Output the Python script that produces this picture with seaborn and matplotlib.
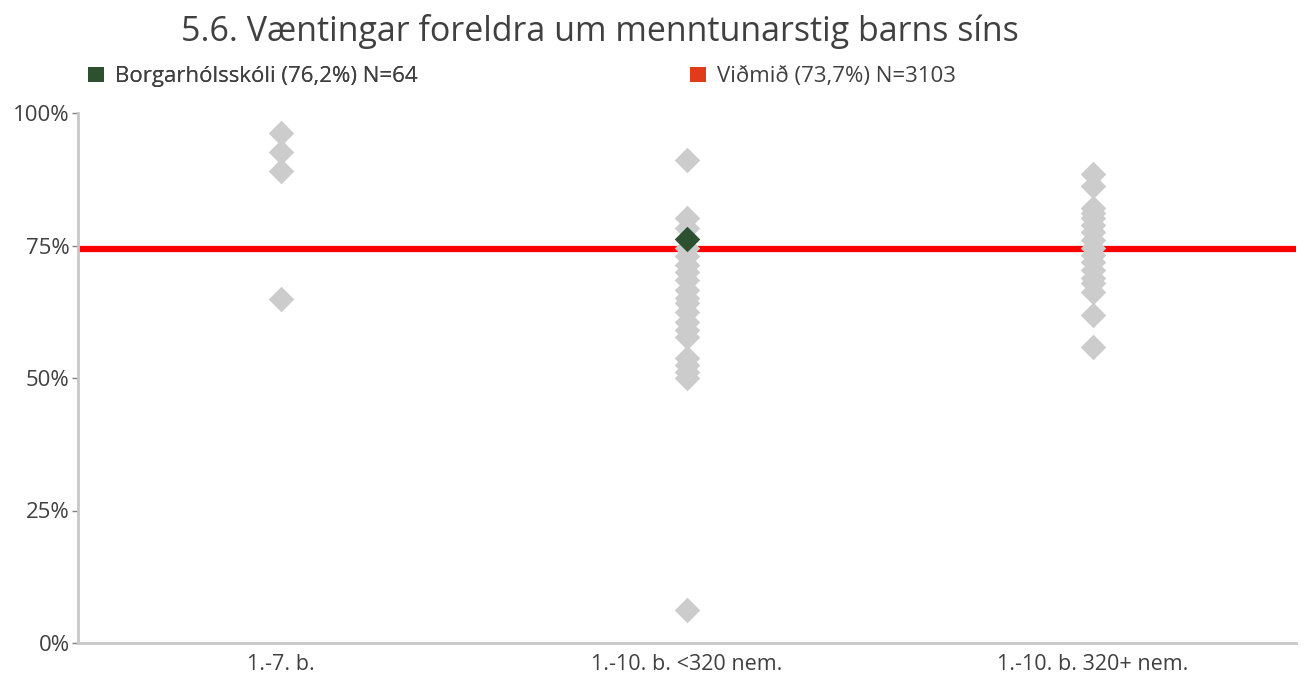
import matplotlib
matplotlib.use("Agg")
import matplotlib.pyplot as plt
import seaborn as sns
import pandas as pd
from matplotlib.patches import Patch

# ---- data ----
categories = ["1.-7. b.", "1.-10. b. <320 nem.", "1.-10. b. 320+ nem."]
group1_values = [96.2, 92.6, 89.1, 64.9]
group2_values = [91.1, 80.2, 78.3, 74.5, 73.0, 71.3, 70.0, 68.5, 66.6, 65.1, 64.2,
                 62.5, 60.6, 59.1, 57.7, 53.8, 52.5, 51.1, 50.0, 6.2]
group3_values = [88.5, 86.2, 82.1, 81.1, 80.2, 78.9, 77.5, 76.0, 74.5, 73.2, 71.9,
                 70.4, 68.9, 67.9, 66.2, 61.9, 55.8]
school_category = "1.-10. b. <320 nem."
school_value = 76.2
reference_value = 74.4
school_label = "Borgarhólsskóli (76,2%) N=64"
reference_label = "Viðmið (73,7%) N=3103"
title = "5.6. Væntingar foreldra um menntunarstig barns síns"
ytick_values = [0, 25, 50, 75, 100]
ytick_labels = ["0%", "25%", "50%", "75%", "100%"]

rows = []
for cat, vals in zip(categories, [group1_values, group2_values, group3_values]):
    for v in vals:
        rows.append({"cat": cat, "val": v})
df = pd.DataFrame(rows)
df_school = pd.DataFrame({"cat": [school_category], "val": [school_value]})

sns.set_theme(style="white")
plt.rcParams["font.family"] = ["Open Sans", "DejaVu Sans"]

fig = plt.figure(figsize=(13.04, 6.75), dpi=100)
ax = fig.add_axes([78 / 1304, 1 - 643 / 675, (1296 - 78) / 1304, (643 - 113) / 675])

ax.axhline(reference_value, color="#FF0000", linewidth=4.5, zorder=1)
sns.stripplot(data=df, x="cat", y="val", order=categories, jitter=False,
              marker="D", size=13, color="#CCCCCC", linewidth=0, ax=ax, zorder=3)
sns.stripplot(data=df_school, x="cat", y="val", order=categories, jitter=False,
              marker="D", size=13, color="#2D5130", linewidth=0, ax=ax, zorder=4)

ax.set_xlim(-0.5, 2.5)
ax.set_ylim(0, 100)
ax.set_yticks(ytick_values)
ax.set_yticklabels(ytick_labels)
ax.set_xlabel("")
ax.set_ylabel("")
for s in ["top", "right"]:
    ax.spines[s].set_visible(False)
for s in ["left", "bottom"]:
    ax.spines[s].set_color("#C8C8C8")
    ax.spines[s].set_linewidth(2)
ax.tick_params(axis="y", left=True, length=4, width=1, color="#808080",
               labelsize=16, labelcolor="#404040", pad=2)
ax.tick_params(axis="x", bottom=False, labelsize=15.5, labelcolor="#404040", pad=2)

fig.text(0.46, 0.953, title, ha="center", va="center", fontsize=24.5, color="#404040")

leg_kw = dict(loc="center left", frameon=False, fontsize=16, handlelength=0.7,
              handleheight=0.7, handletextpad=0.5, labelcolor="#404040", borderpad=0,
              borderaxespad=0)
leg1 = fig.legend(handles=[Patch(facecolor="#2D5130", edgecolor="none", label=school_label)],
                  bbox_to_anchor=(88 / 1304, 0.886), **leg_kw)
fig.add_artist(leg1)
fig.legend(handles=[Patch(facecolor="#E03C1A", edgecolor="none", label=reference_label)],
           bbox_to_anchor=(690 / 1304, 0.886), **leg_kw)

fig.savefig("out.png", dpi=100)
